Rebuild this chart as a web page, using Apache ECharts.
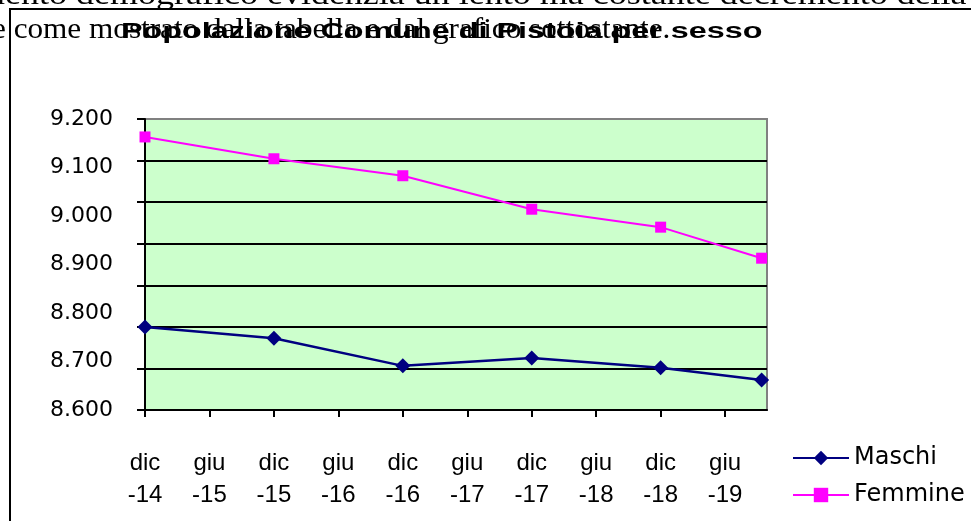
<!DOCTYPE html>
<html>
<head>
<meta charset="utf-8">
<title>Popolazione Comune di Pistoia per sesso</title>
<script src="https://cdn.jsdelivr.net/npm/echarts@6/dist/echarts.min.js"></script>
<style>
html, body { margin: 0; padding: 0; background: #fff; }
#chart { width: 971px; height: 521px; }
</style>
</head>
<body>
<div id="chart"></div>
<script>
// x axis: months after dic-14, one tick every 6 months
var tickLabels = ['dic\n-14', 'giu\n-15', 'dic\n-15', 'giu\n-16', 'dic\n-16',
                  'giu\n-17', 'dic\n-17', 'giu\n-18', 'dic\n-18', 'giu\n-19'];
var tickStep = 6;
var xMax = 57.9;

// survey dates, in months after dic-14
var pointMonths = [0, 12, 24, 36, 48, 57.4];
var maschi  = [8771, 8748, 8691, 8707, 8687, 8662];
var femmine = [9163, 9118, 9083, 9014, 8977, 8913];

var yMin = 8600, yMax = 9200, yStep = 100;

var docLine1 = 'mento demografico evidenzia un lento ma costante decremento della';
var docLine2 = 'e come mostrato dalla tabella e dal grafico sottostante.';
var chartTitle = 'Popolazione Comune di Pistoia per sesso';

var tickPos = tickLabels.map(function (l, i) { return i * tickStep; });

function pairs(xs, ys) {
    return ys.map(function (v, i) { return [xs[i], v]; });
}

function legendAt(name, top) {
    return {
        left: 792, top: top, padding: 0,
        itemWidth: 56, itemHeight: 18,
        textStyle: { fontFamily: 'DejaVu Sans', fontSize: 24, color: '#000' },
        data: [name]
    };
}

var dom = document.getElementById('chart');
var myChart = echarts.init(dom);
var option = {
    animation: false,
    backgroundColor: '#fff',
    grid: {
        left: 145, right: 204, top: 119, bottom: 111,
        show: true,
        backgroundColor: '#CCFFCC',
        borderColor: '#808080',
        borderWidth: 2
    },
    legend: [legendAt('Maschi', 446), legendAt('Femmine', 483)],
    xAxis: {
        type: 'value',
        min: 0, max: xMax,
        axisLine: { lineStyle: { color: '#000', width: 2 } },
        axisTick: { customValues: tickPos, length: 7, lineStyle: { color: '#000', width: 2 } },
        axisLabel: {
            customValues: tickPos,
            margin: 37,
            fontFamily: 'Liberation Sans',
            fontSize: 24, lineHeight: 32, color: '#000',
            formatter: function (v) { return tickLabels[Math.round(v / tickStep)] || ''; }
        },
        splitLine: { show: false }
    },
    yAxis: [
        {
            type: 'value',
            min: yMin, max: yMax, interval: yStep,
            axisLine: { show: true, lineStyle: { color: '#000', width: 2 } },
            axisTick: { show: false },
            axisLabel: {
                margin: 32,
                fontFamily: 'DejaVu Sans', fontSize: 22, color: '#000',
                formatter: function (v) { return (v / 1000).toFixed(3); }
            },
            splitLine: { show: false }
        },
        {
            // gridlines and ticks of the original plot (7 bands)
            type: 'value',
            position: 'left',
            min: 0, max: 7, interval: 1,
            axisLine: { show: false },
            axisLabel: { show: false },
            axisTick: { show: true, length: 8, lineStyle: { color: '#000', width: 2 } },
            splitLine: {
                show: true, showMinLine: false, showMaxLine: false,
                lineStyle: { color: '#000', width: 2 }
            }
        }
    ],
    series: [
        {
            name: 'Maschi',
            type: 'line',
            data: pairs(pointMonths, maschi),
            symbol: 'diamond',
            symbolSize: 15,
            itemStyle: { color: '#000080' },
            lineStyle: { color: '#000080', width: 2.5 }
        },
        {
            name: 'Femmine',
            type: 'line',
            data: pairs(pointMonths, femmine),
            symbol: 'rect',
            symbolSize: 11,
            itemStyle: { color: '#FF00FF' },
            lineStyle: { color: '#FF00FF', width: 2 }
        }
    ],
    graphic: [
        // chart frame (top and left edges)
        { type: 'line', shape: { x1: 9, y1: 9, x2: 971, y2: 9 }, style: { stroke: '#000', lineWidth: 2 } },
        { type: 'line', shape: { x1: 10, y1: 9, x2: 10, y2: 521 }, style: { stroke: '#000', lineWidth: 2 } },
        // page text behind the chart
        {
            type: 'text', x: -23, y: -4, scaleX: 1.2,
            style: { text: docLine1, font: '30px "Liberation Serif"', fill: '#000', verticalAlign: 'middle' }
        },
        {
            type: 'text', x: -8, y: 30, scaleX: 1.04,
            style: { text: docLine2, font: '30px "Liberation Serif"', fill: '#000', verticalAlign: 'middle' }
        },
        {
            type: 'text', x: 121, y: 32, scaleX: 1.47,
            style: { text: chartTitle, font: 'bold 22px "Liberation Sans"', fill: '#000', verticalAlign: 'middle' }
        }
    ]
};

if (option && typeof option === 'object') {
    myChart.setOption(option, true);
}
</script>
</body>
</html>
